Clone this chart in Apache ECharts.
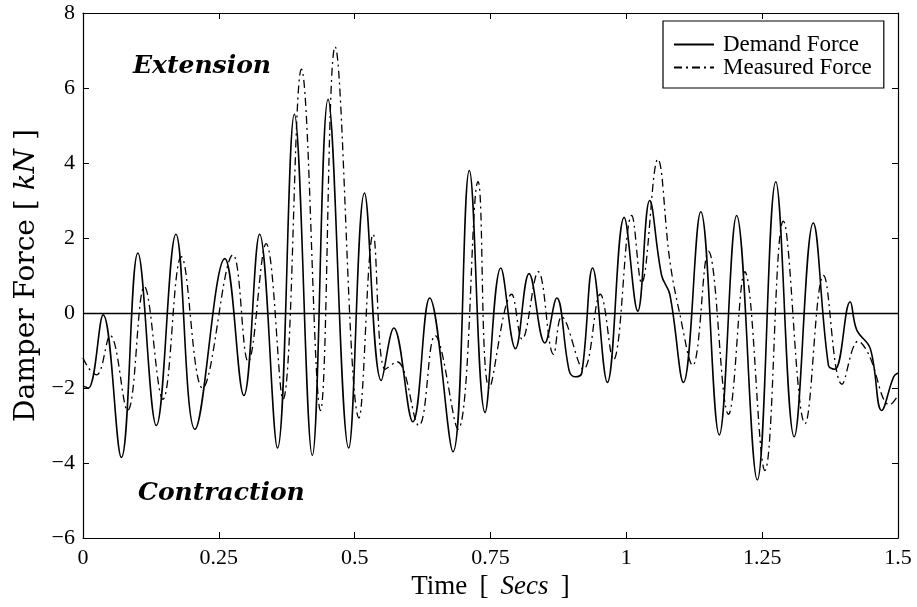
<!DOCTYPE html>
<html>
<head>
<meta charset="utf-8">
<script src="https://cdn.jsdelivr.net/npm/echarts@6/dist/echarts.min.js"></script>
<style>
html,body{margin:0;padding:0;background:#fff;}
#chart{width:917px;height:607px;}
</style>
</head>
<body>
<div id="chart"></div>
<script>
// ---- data ----
var seriesNames = ['Demand Force', 'Measured Force'];
var xTicks = [0, 0.25, 0.5, 0.75, 1, 1.25, 1.5];
var yTicks = [-6, -4, -2, 0, 2, 4, 6, 8];

var demandT = [0, 0.01, 0.037, 0.0706, 0.101, 0.135, 0.171, 0.206, 0.261, 0.296, 0.325, 0.358, 0.389, 0.422, 0.451, 0.489, 0.518, 0.549, 0.572, 0.607, 0.638, 0.681, 0.711, 0.740, 0.769, 0.796, 0.821, 0.850, 0.872, 0.895, 0.906, 0.918, 0.938, 0.965, 0.996, 1.021, 1.043, 1.065, 1.080, 1.105, 1.137, 1.171, 1.203, 1.241, 1.275, 1.309, 1.344, 1.372, 1.384, 1.412, 1.424, 1.449, 1.470, 1.492, 1.5];
var demandV = [-1.95, -2.0, -0.05, -3.85, 1.6, -3.0, 2.1, -3.1, 1.45, -2.2, 2.1, -3.6, 5.3, -3.8, 5.7, -3.6, 3.2, -1.8, -0.4, -2.9, 0.4, -3.7, 3.8, -2.65, 1.2, -0.95, 1.05, -0.8, 0.4, -1.55, -1.7, -1.6, 1.2, -1.85, 2.55, 0.05, 3.0, 1.0, 0.5, -1.85, 2.7, -3.25, 2.6, -4.45, 3.5, -3.3, 2.4, -1.4, -1.5, 0.3, -0.45, -0.95, -2.6, -1.7, -1.6];

var measuredT = [0, 0.012, 0.025, 0.05, 0.082, 0.113, 0.147, 0.181, 0.22, 0.276, 0.304, 0.337, 0.368, 0.402, 0.437, 0.464, 0.508, 0.534, 0.556, 0.578, 0.618, 0.648, 0.69, 0.727, 0.748, 0.789, 0.808, 0.838, 0.866, 0.881, 0.921, 0.952, 0.976, 1.010, 1.028, 1.058, 1.080, 1.098, 1.122, 1.151, 1.188, 1.218, 1.255, 1.289, 1.329, 1.363, 1.397, 1.427, 1.446, 1.485, 1.5];
var measuredV = [-1.2, -1.5, -1.65, -0.6, -2.6, 0.7, -2.3, 1.5, -2.0, 1.55, -1.3, 1.85, -2.3, 6.5, -2.6, 7.1, -2.8, 2.1, -1.5, -1.3, -3.0, -0.6, -3.1, 3.5, -2.0, 0.5, -0.7, 1.1, -1.1, -0.1, -1.5, 0.5, -1.25, 2.6, 0.8, 4.1, 1.4, 0.0, -1.4, 1.65, -2.7, 1.1, -4.2, 2.45, -2.95, 1.0, -1.9, -0.75, -1.1, -2.45, -2.2];

var annotations = ['Extension', 'Contraction'];

function pairs(xs, ys) { return xs.map(function (x, i) { return [x, ys[i]]; }); }

var SERIF = '"Liberation Serif", "Times New Roman", serif';
var WIDE = '"DejaVu Serif", serif';
var chart = echarts.init(document.getElementById('chart'));

function fmtX(v) { return String(v); }
function fmtY(v) { return v < 0 ? '\u2212' + Math.abs(v) : String(v); }

var baseAxisLine = { show: true, onZero: false, lineStyle: { color: '#000', width: 1.2 } };
var baseTick = { show: true, inside: true, length: 6, lineStyle: { color: '#000', width: 1 } };

var option = {
  animation: false,
  backgroundColor: '#fff',
  grid: { left: 83, right: 19, top: 13, bottom: 69, containLabel: false },
  xAxis: [{
    type: 'value', min: xTicks[0], max: xTicks[xTicks.length - 1], interval: 0.25,
    position: 'bottom',
    axisLine: baseAxisLine, axisTick: baseTick, splitLine: { show: false },
    axisLabel: { color: '#000', fontFamily: SERIF, fontSize: 22, margin: 9, formatter: fmtX },
    name: 'Time \u2009[ \u2009{i|Secs} \u2009]', nameLocation: 'middle', nameGap: 31,
    nameTextStyle: { color: '#000', fontFamily: SERIF, fontSize: 27,
      rich: { i: { fontStyle: 'italic', fontFamily: SERIF, fontSize: 27, color: '#000' } } }
  }, {
    type: 'value', min: xTicks[0], max: xTicks[xTicks.length - 1], interval: 0.25,
    position: 'top',
    axisLine: baseAxisLine, axisTick: baseTick, splitLine: { show: false },
    axisLabel: { show: false }
  }],
  yAxis: [{
    type: 'value', min: yTicks[0], max: yTicks[yTicks.length - 1], interval: 2,
    position: 'left',
    axisLine: baseAxisLine, axisTick: baseTick, splitLine: { show: false },
    axisLabel: { color: '#000', fontFamily: SERIF, fontSize: 22, margin: 8, formatter: fmtY },
    name: 'Damper Force [ {i|kN} ]', nameLocation: 'middle', nameGap: 30,
    nameTextStyle: { color: '#000', fontFamily: WIDE, fontSize: 28,
      rich: { i: { fontStyle: 'italic', fontFamily: WIDE, fontSize: 28, color: '#000' } } }
  }, {
    type: 'value', min: yTicks[0], max: yTicks[yTicks.length - 1], interval: 2,
    position: 'right',
    axisLine: baseAxisLine, axisTick: baseTick, splitLine: { show: false },
    axisLabel: { show: false }
  }],
  legend: {
    data: seriesNames,
    orient: 'vertical',
    left: 663, top: 21,
    padding: [12, 12, 9, 10],
    itemGap: 0,
    itemWidth: 40, itemHeight: 14,
    borderColor: '#000', borderWidth: 1.2, borderRadius: 0,
    backgroundColor: '#fff',
    itemStyle: { opacity: 0 },
    textStyle: { color: '#000', fontFamily: SERIF, fontSize: 23, lineHeight: 23, padding: [0, 0, 0, 4] }
  },
  graphic: [{
    type: 'text', x: 133, y: 66,
    style: { text: annotations[0], fill: '#000', fontFamily: WIDE, fontSize: 25,
      fontWeight: 'bold', fontStyle: 'italic', verticalAlign: 'middle', align: 'left' }
  }, {
    type: 'text', x: 138, y: 493,
    style: { text: annotations[1], fill: '#000', fontFamily: WIDE, fontSize: 25,
      fontWeight: 'bold', fontStyle: 'italic', verticalAlign: 'middle', align: 'left' }
  }],
  series: [{
    name: seriesNames[0], type: 'line', data: pairs(demandT, demandV),
    showSymbol: false, symbol: 'none', smooth: 0.4,
    lineStyle: { color: '#000', width: 1.6, type: 'solid' },
    itemStyle: { color: '#000' },
    markLine: {
      silent: true, symbol: ['none', 'none'], label: { show: false },
      lineStyle: { color: '#000', width: 1.4, type: 'solid' },
      data: [{ yAxis: 0 }]
    },
    z: 3
  }, {
    name: seriesNames[1], type: 'line', data: pairs(measuredT, measuredV),
    showSymbol: false, symbol: 'none', smooth: 0.4,
    lineStyle: { color: '#000', width: 1.3, type: [8, 4, 2, 4] },
    itemStyle: { color: '#000' },
    z: 2
  }]
};
chart.setOption(option);
</script>
</body>
</html>
